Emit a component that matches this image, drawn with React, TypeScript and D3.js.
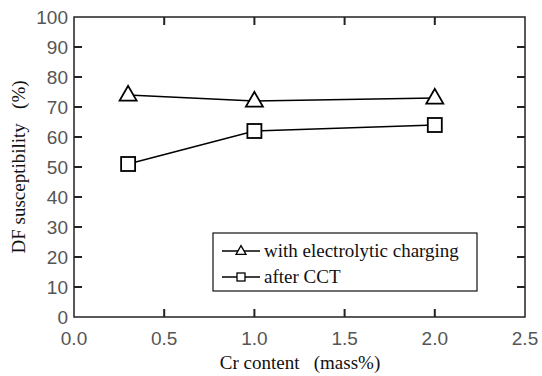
import React from "react";
import * as d3 from "d3";

const xValues = [0.3, 1.0, 2.0];
const chargingValues = [74, 72, 73];
const cctValues = [51, 62, 64];
const xTicks = [0, 0.5, 1.0, 1.5, 2.0, 2.5];
const yTicks = [0, 10, 20, 30, 40, 50, 60, 70, 80, 90, 100];
const seriesNames = ["with electrolytic charging", "after CCT"];

const W = 542, H = 376;
const M = { left: 74, right: 525, top: 17, bottom: 317 };

export default function App() {
  const x = d3.scaleLinear().domain([0, 2.5]).range([M.left, M.right]);
  const y = d3.scaleLinear().domain([0, 100]).range([M.bottom, M.top]);
  const line = d3.line<number>().x((_, i) => x(xValues[i])).y((d) => y(d));
  const tickLen = 8;
  const axisColor = "#222";
  const sans = "Liberation Sans, Arial, sans-serif";
  const serif = "Liberation Serif, Times New Roman, DejaVu Serif, serif";

  const tri = (cx: number, cy: number, s: number) => {
    const h = s * 0.87;
    return `M${cx},${cy - h * 0.62} L${cx + s / 2},${cy + h * 0.38} L${cx - s / 2},${cy + h * 0.38} Z`;
  };

  const legX = 213, legY = 233, legW = 264, legH = 58;

  return (
    <svg width={W} height={H} style={{ position: "absolute", left: 0, top: 0, background: "#fff" }}>
      <rect x={0} y={0} width={W} height={H} fill="#fff" />
      <rect x={M.left} y={M.top} width={M.right - M.left} height={M.bottom - M.top} fill="none" stroke={axisColor} strokeWidth={1.5} />
      {xTicks.map((t) => (
        <g key={"x" + t}>
          {t > 0 && t < 2.5 && (
            <>
              <line x1={x(t)} x2={x(t)} y1={M.bottom} y2={M.bottom - tickLen} stroke={axisColor} strokeWidth={2} />
              <line x1={x(t)} x2={x(t)} y1={M.top} y2={M.top + tickLen} stroke={axisColor} strokeWidth={2} />
            </>
          )}
          <text x={x(t)} y={345} textAnchor="middle" style={{ fontFamily: sans, fontSize: 19 }} fill="#555">
            {t.toFixed(1)}
          </text>
        </g>
      ))}
      {yTicks.map((t) => (
        <g key={"y" + t}>
          {t > 0 && t < 100 && (
            <>
              <line x1={M.left} x2={M.left + tickLen} y1={y(t)} y2={y(t)} stroke={axisColor} strokeWidth={2} />
              <line x1={M.right} x2={M.right - tickLen} y1={y(t)} y2={y(t)} stroke={axisColor} strokeWidth={2} />
            </>
          )}
          <text x={68} y={y(t) + 7} textAnchor="end" style={{ fontFamily: sans, fontSize: 19 }} fill="#555">
            {t}
          </text>
        </g>
      ))}
      <text x={300} y={369} textAnchor="middle" style={{ fontFamily: serif, fontSize: 19, whiteSpace: "pre" }} fill="#111">
        {"Cr content   (mass%)"}
      </text>
      <text transform={`translate(25,167) rotate(-90)`} textAnchor="middle" style={{ fontFamily: serif, fontSize: 19, whiteSpace: "pre" }} fill="#111">
        {"DF susceptibility   (%)"}
      </text>
      <path d={line(chargingValues) || ""} fill="none" stroke="#000" strokeWidth={1.5} />
      <path d={line(cctValues) || ""} fill="none" stroke="#000" strokeWidth={1.5} />
      {chargingValues.map((v, i) => (
        <path key={"t" + i} d={tri(x(xValues[i]), y(v), 17)} fill="#fff" stroke="#000" strokeWidth={1.8} />
      ))}
      {cctValues.map((v, i) => (
        <rect key={"s" + i} x={x(xValues[i]) - 7} y={y(v) - 7} width={14} height={14} fill="#fff" stroke="#000" strokeWidth={1.8} />
      ))}
      <rect x={legX} y={legY} width={legW} height={legH} fill="#fff" stroke="#111" strokeWidth={1.2} />
      {seriesNames.map((name, i) => {
        const cy = legY + 18 + i * 26;
        return (
          <g key={name}>
            <line x1={legX + 9} x2={legX + 47} y1={cy} y2={cy} stroke="#000" strokeWidth={1.5} />
            {i === 0 ? (
              <path d={tri(legX + 28, cy, 10)} fill="#fff" stroke="#000" strokeWidth={1.3} />
            ) : (
              <rect x={legX + 24} y={cy - 4} width={8} height={8} fill="#fff" stroke="#000" strokeWidth={1.3} />
            )}
            <text x={legX + 51} y={cy + 6} style={{ fontFamily: serif, fontSize: 19 }} fill="#111">
              {name}
            </text>
          </g>
        );
      })}
    </svg>
  );
}
